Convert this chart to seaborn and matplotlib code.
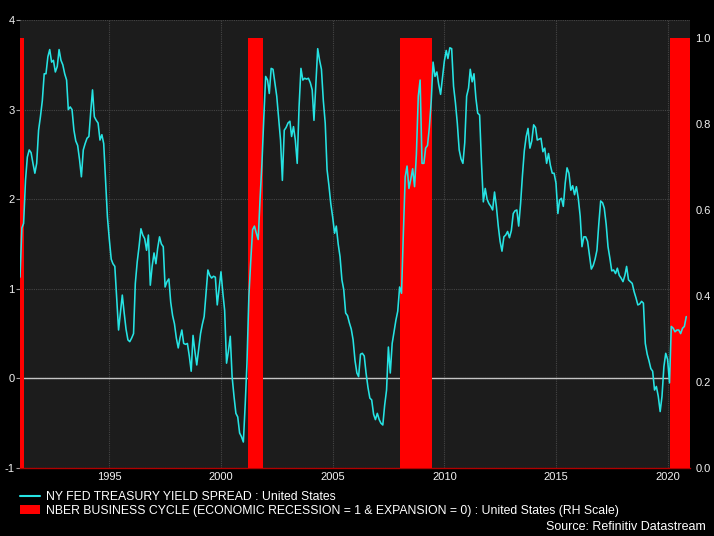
import matplotlib
matplotlib.use("Agg")
import matplotlib.pyplot as plt
import matplotlib.lines as mlines
import matplotlib.patches as mpatches
import pandas as pd
import seaborn as sns

# NY Fed 10y-3m spread, monthly (Jan 1991 -> Nov 2020)
spread_start = "1991-01-01"
spread_values = [
    1.13, 1.68, 1.73, 2.21, 2.47, 2.55, 2.52, 2.40, 2.29, 2.40, 2.77, 2.92,  # 1991
    3.10, 3.40, 3.40, 3.59, 3.67, 3.53, 3.55, 3.42, 3.48, 3.67, 3.55, 3.50,  # 1992
    3.40, 3.33, 3.00, 3.03, 3.00, 2.77, 2.65, 2.60, 2.44, 2.25, 2.55, 2.62,  # 1993
    2.68, 2.70, 2.96, 3.22, 2.92, 2.88, 2.85, 2.66, 2.72, 2.62, 2.21, 1.80,  # 1994
    1.55, 1.33, 1.28, 1.25, 0.91, 0.54, 0.73, 0.93, 0.73, 0.55, 0.43, 0.41,  # 1995
    0.45, 0.50, 1.06, 1.30, 1.47, 1.67, 1.60, 1.56, 1.43, 1.60, 1.04, 1.25,  # 1996
    1.40, 1.28, 1.45, 1.58, 1.50, 1.47, 1.02, 1.08, 1.11, 0.85, 0.70, 0.61,  # 1997
    0.45, 0.34, 0.45, 0.54, 0.39, 0.38, 0.39, 0.25, 0.08, 0.48, 0.30, 0.15,  # 1998
    0.32, 0.50, 0.60, 0.69, 0.95, 1.21, 1.15, 1.12, 1.14, 1.13, 0.82, 1.00,  # 1999
    1.19, 0.95, 0.76, 0.17, 0.30, 0.47, 0.02, -0.20, -0.39, -0.43, -0.61, -0.65,  # 2000
    -0.71, -0.28, 0.17, 0.91, 1.30, 1.66, 1.70, 1.62, 1.55, 2.00, 2.40, 2.90,  # 2001
    3.37, 3.33, 3.18, 3.46, 3.45, 3.30, 3.15, 2.90, 2.66, 2.21, 2.77, 2.80,  # 2002
    2.85, 2.87, 2.70, 2.81, 2.66, 2.40, 3.03, 3.46, 3.33, 3.35, 3.34, 3.35,  # 2003
    3.30, 3.22, 2.88, 3.29, 3.68, 3.55, 3.45, 3.10, 2.85, 2.33, 2.15, 1.95,  # 2004
    1.80, 1.62, 1.70, 1.50, 1.36, 1.10, 0.99, 0.73, 0.70, 0.62, 0.55, 0.43,  # 2005
    0.20, 0.06, 0.02, 0.27, 0.28, 0.25, 0.06, -0.10, -0.22, -0.24, -0.40, -0.46,  # 2006
    -0.39, -0.46, -0.50, -0.52, -0.30, -0.13, 0.35, 0.06, 0.39, 0.52, 0.65, 0.75,  # 2007
    1.02, 0.95, 1.60, 2.25, 2.37, 2.12, 2.22, 2.34, 2.14, 2.50, 3.15, 3.33,  # 2008
    2.40, 2.40, 2.57, 2.60, 2.80, 3.10, 3.53, 3.37, 3.42, 3.28, 3.17, 3.35,  # 2009
    3.54, 3.66, 3.57, 3.69, 3.68, 3.26, 3.08, 2.85, 2.55, 2.45, 2.40, 2.63,  # 2010
    3.15, 3.24, 3.45, 3.31, 3.40, 3.13, 2.96, 2.94, 2.40, 1.97, 2.12, 2.00,  # 2011
    1.95, 1.92, 1.88, 2.08, 1.92, 1.70, 1.53, 1.42, 1.58, 1.60, 1.64, 1.57,  # 2012
    1.65, 1.84, 1.87, 1.88, 1.70, 1.95, 2.26, 2.54, 2.70, 2.79, 2.57, 2.65,  # 2013
    2.83, 2.80, 2.66, 2.67, 2.68, 2.53, 2.57, 2.40, 2.51, 2.38, 2.29, 2.29,  # 2014
    2.18, 1.84, 1.99, 2.01, 1.92, 2.18, 2.35, 2.29, 2.10, 2.15, 2.05, 2.14,  # 2015
    2.01, 1.81, 1.47, 1.58, 1.58, 1.53, 1.38, 1.22, 1.26, 1.33, 1.43, 1.72,  # 2016
    1.98, 1.96, 1.90, 1.72, 1.47, 1.34, 1.20, 1.21, 1.17, 1.23, 1.15, 1.12,  # 2017
    1.08, 1.15, 1.25, 1.10, 1.08, 1.06, 0.97, 0.90, 0.82, 0.83, 0.86, 0.84,  # 2018
    0.39, 0.27, 0.20, 0.11, 0.08, -0.13, -0.09, -0.20, -0.37, -0.20, 0.13, 0.28,  # 2019
    0.21, -0.05, 0.58, 0.56, 0.52, 0.54, 0.54, 0.50, 0.56, 0.58, 0.69,  # 2020
]

# NBER recession periods (value 1 on the right axis)
recession_start = ["1991-01-01", "2001-03-20", "2008-01-01", "2020-02-10"]
recession_end = ["1991-03-01", "2001-11-20", "2009-06-15", "2021-01-01"]
recession_level = 1.0

year_ticks = ["1995", "2000", "2005", "2010", "2015", "2020"]
left_ticks = [-1, 0, 1, 2, 3, 4]
right_ticks = [0.0, 0.2, 0.4, 0.6, 0.8, 1.0]

spread_label = "NY FED TREASURY YIELD SPREAD : United States"
nber_label = "NBER BUSINESS CYCLE (ECONOMIC RECESSION = 1 & EXPANSION = 0) : United States (RH Scale)"
source_text = "Source: Refinitiv Datastream"

df = pd.DataFrame({
    "date": pd.date_range(spread_start, periods=len(spread_values), freq="MS"),
    "spread": spread_values,
})

sns.set_style("dark", {"axes.facecolor": "#1c1c1c", "figure.facecolor": "black"})
plt.rcParams["font.family"] = ["Liberation Sans", "DejaVu Sans"]

fig = plt.figure(figsize=(7.14, 5.36), dpi=100, facecolor="black")
ax = fig.add_axes([20 / 714, 68 / 536, 670 / 714, 448 / 536])
ax.set_facecolor("#1c1c1c")

xmin, xmax = pd.Timestamp("1991-01-01"), pd.Timestamp("2021-01-01")
ymin, ymax = -1, 4

# background: grid + zero line
ax.set_xlim(xmin, xmax)
ax.set_ylim(ymin, ymax)
ax.set_xticks([pd.Timestamp(y + "-01-01") for y in year_ticks])
ax.set_xticklabels(year_ticks)
ax.set_yticks(left_ticks)
ax.set_yticklabels([str(t) for t in left_ticks])
ax.grid(True, color="#454545", linestyle=(0, (1, 1)), linewidth=0.8)
ax.axhline(0, color="#c4c4c4", linewidth=1.0)
ax.tick_params(axis="y", colors="#a0a0a0", labelcolor="#f2f2f2", labelsize=8, length=3, width=0.8, pad=1)
ax.tick_params(axis="x", labelcolor="#f2f2f2", labelsize=8, length=0, pad=3)
for s in ["top", "right", "left"]:
    ax.spines[s].set_visible(False)
ax.spines["bottom"].set_color("#b00000")
ax.spines["bottom"].set_linewidth(1.0)

# recession bars on the right-hand scale
ax2 = ax.twinx()
for start, end in zip(recession_start, recession_end):
    ax2.fill_between(
        [pd.Timestamp(start), pd.Timestamp(end)],
        0,
        recession_level,
        color="#ff0000",
        linewidth=0,
    )
ax2.set_ylim(0, 1.042)
ax2.set_yticks(right_ticks)
ax2.set_yticklabels([f"{t:.1f}" for t in right_ticks])
ax2.tick_params(axis="y", labelcolor="#f2f2f2", labelsize=8, length=0, pad=4)
ax2.grid(False)
for s in ax2.spines.values():
    s.set_visible(False)

# spread line on top
ax3 = ax.twinx()
sns.lineplot(data=df, x="date", y="spread", ax=ax3, color="#26e3e3", linewidth=1.15)
ax3.set_xlim(xmin, xmax)
ax3.set_ylim(ymin, ymax)
ax3.set_yticks([])
ax3.set_xlabel("")
ax3.set_ylabel("")
ax3.grid(False)
for s in ax3.spines.values():
    s.set_visible(False)
ax.set_xlabel("")
ax.set_ylabel("")

handles = [
    mlines.Line2D([], [], color="#26e3e3", linewidth=1.5),
    mpatches.Patch(facecolor="#ff0000", edgecolor="none"),
]
leg = fig.legend(
    handles,
    [spread_label, nber_label],
    loc="upper left",
    bbox_to_anchor=(20 / 714, 1 - 491 / 536),
    frameon=False,
    handlelength=1.6,
    handleheight=0.8,
    handletextpad=0.5,
    labelspacing=0.15,
    borderpad=0,
    borderaxespad=0,
    prop={"family": ["Liberation Sans", "DejaVu Sans"], "size": 8.8},
)
for t in leg.get_texts():
    t.set_color("#ffffff")

fig.text(
    706 / 714, 1 - 527 / 536, source_text,
    ha="right", va="center", color="#ffffff",
    fontsize=9, family=["Liberation Sans", "DejaVu Sans"],
)

fig.savefig("out.png", dpi=100, facecolor="black")
